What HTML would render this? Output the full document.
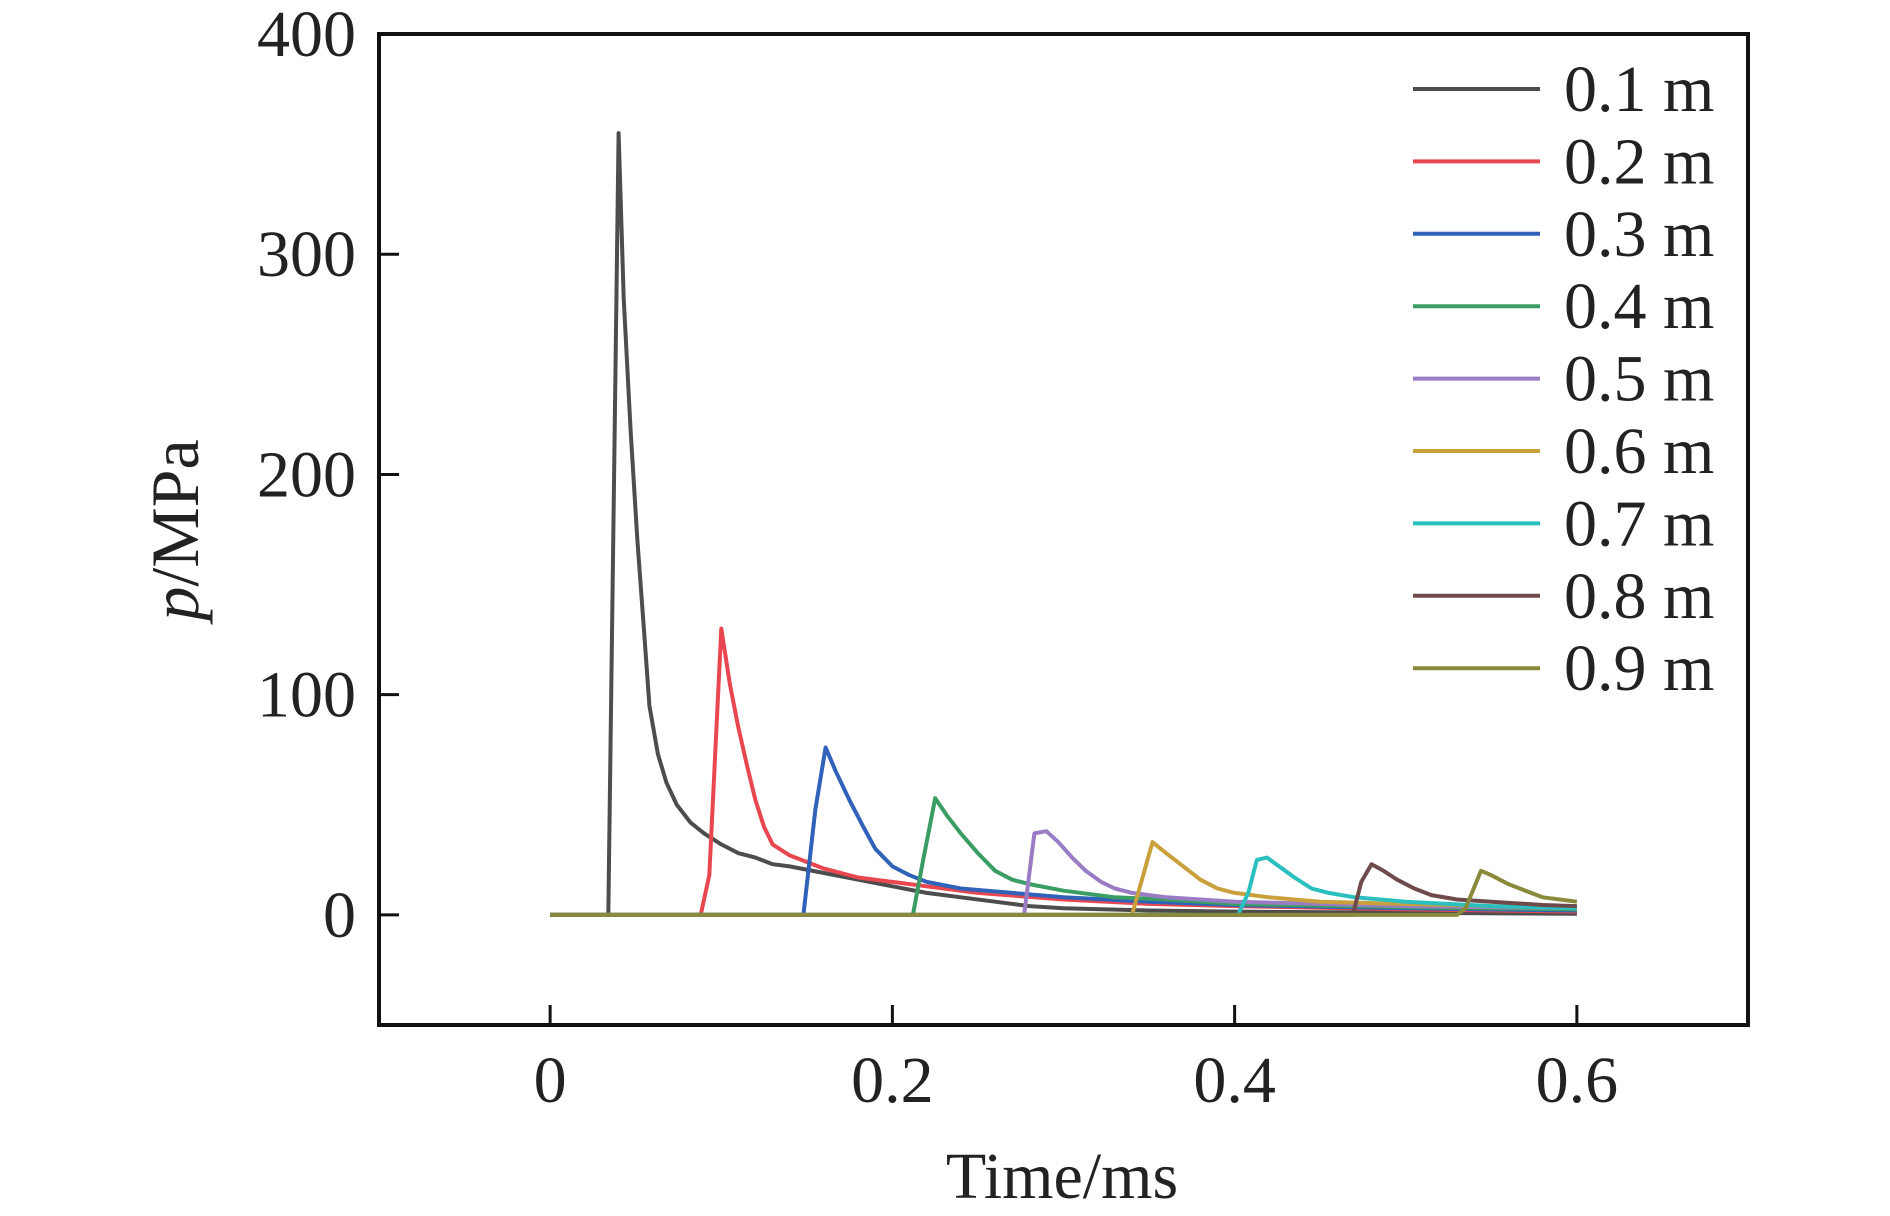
<!DOCTYPE html>
<html><head><meta charset="utf-8"><style>
body{margin:0;background:#fff;}
svg{display:block;font-family:"Liberation Serif",serif;}
</style></head><body>
<svg id="chart" width="1890" height="1216" viewBox="0 0 1890 1216" xmlns="http://www.w3.org/2000/svg">
<g id="series"></g>
<rect x="379" y="34" width="1369" height="991" fill="none" stroke="#111" stroke-width="4"/>
<g id="axes"></g>
<g id="legend"></g>
<text x="1062" y="1198" font-size="66" text-anchor="middle" fill="#222">Time/ms</text>
<text transform="translate(198,530) rotate(-90)" font-size="68" text-anchor="middle" fill="#222"><tspan font-style="italic">p</tspan>/MPa</text>
</svg>
<script>
const seriesNames = ["0.1 m","0.2 m","0.3 m","0.4 m","0.5 m","0.6 m","0.7 m","0.8 m","0.9 m"];
const seriesColors = ["#4d4d4d","#e8474f","#2f62b8","#3a9e64","#9a7cc4","#c9a03c","#2bbfbf","#6e4a4a","#8a8a3c"];
const xTicks = [0,0.2,0.4,0.6];
const yTicks = [0,100,200,300,400];
const t1 = [0,0.034,0.040,0.043,0.047,0.051,0.055,0.058,0.063,0.068,0.074,0.082,0.09,0.1,0.11,0.12,0.13,0.14,0.16,0.18,0.2,0.22,0.24,0.26,0.28,0.3,0.35,0.4,0.5,0.6];
const p1 = [0,0,355,280,220,170,128,95,73,60,50,42,37,32,28,26,23,22,19,16,13,10,8,6,4,3,2,1.5,1,0.5];
const t2 = [0,0.088,0.093,0.1,0.105,0.11,0.115,0.12,0.125,0.13,0.14,0.15,0.16,0.18,0.2,0.22,0.25,0.3,0.35,0.4,0.5,0.6];
const p2 = [0,0,18,130,105,85,68,52,40,32,27,24,21,17,15,13,10,7,5,4,2.5,1.5];
const t3 = [0,0.148,0.155,0.161,0.167,0.175,0.183,0.19,0.2,0.21,0.22,0.24,0.27,0.3,0.35,0.4,0.5,0.6];
const p3 = [0,0,48,76,65,52,40,30,22,18,15,12,10,8,6,4.5,3,2];
const t4 = [0,0.212,0.218,0.225,0.232,0.24,0.25,0.26,0.27,0.28,0.3,0.33,0.36,0.4,0.5,0.6];
const p4 = [0,0,25,53,45,37,28,20,16,14,11,8,7,5,3.5,2.5];
const t5 = [0,0.277,0.283,0.29,0.297,0.305,0.313,0.322,0.33,0.34,0.36,0.38,0.4,0.45,0.5,0.6];
const p5 = [0,0,37,38,33,26,20,15,12,10,8,7,6,5,4,3];
const t6 = [0,0.34,0.352,0.36,0.37,0.38,0.39,0.4,0.42,0.45,0.5,0.55,0.6];
const p6 = [0,0,33,28,22,16,12,10,8,6,5,4,3];
const t7 = [0,0.402,0.408,0.413,0.419,0.426,0.435,0.445,0.455,0.47,0.5,0.55,0.6];
const p7 = [0,0,10,25,26,22,17,12,10,8,6,4,3];
const t8 = [0,0.469,0.474,0.48,0.487,0.495,0.505,0.515,0.53,0.55,0.58,0.6];
const p8 = [0,0,15,23,20,16,12,9,7,6,4.5,4];
const t9 = [0,0.53,0.535,0.544,0.55,0.56,0.57,0.58,0.59,0.6];
const p9 = [0,0,3,20,18,14,11,8,7,6];
const allT=[t1,t2,t3,t4,t5,t6,t7,t8,t9], allP=[p1,p2,p3,p4,p5,p6,p7,p8,p9];
const NS="http://www.w3.org/2000/svg";
const X0=379,X1=1748,Y0=1025,Y1=34, xmin=-0.1,xmax=0.7,ymin=-50,ymax=400;
function sx(v){return X0+(v-xmin)/(xmax-xmin)*(X1-X0);}
function sy(v){return Y0-(v-ymin)/(ymax-ymin)*(Y0-Y1);}
function mk(tag,attrs,parent){const e=document.createElementNS(NS,tag);for(const k in attrs)e.setAttribute(k,attrs[k]);parent.appendChild(e);return e;}
const sg=document.getElementById('series');
allT.forEach((ts,i)=>{
  const d=ts.map((t,j)=>(j?'L':'M')+sx(t).toFixed(1)+','+sy(allP[i][j]).toFixed(1)).join(' ');
  const p=mk('path',{d:d,fill:'none',stroke:seriesColors[i],'stroke-width':4,'stroke-linejoin':'round'},sg);
  
  
});
const ax=document.getElementById('axes');
xTicks.forEach(v=>{
  const l=mk('line',{x1:sx(v),x2:sx(v),y1:Y0,y2:Y0-20,stroke:'#111','stroke-width':3},ax);
  
  
  const t=mk('text',{x:sx(v),y:1102,'font-size':66,'text-anchor':'middle',fill:'#222'},ax);
  t.textContent=String(v);
  
  
});
yTicks.forEach(v=>{
  const l=mk('line',{x1:X0,x2:X0+20,y1:sy(v),y2:sy(v),stroke:'#111','stroke-width':3},ax);
  
  
  const t=mk('text',{x:356,y:sy(v)+22,'font-size':66,'text-anchor':'end',fill:'#222'},ax);
  t.textContent=String(v);
  
  
});
const lg=document.getElementById('legend');
seriesNames.forEach((n,i)=>{
  const y=89+i*72.4;
  const g=mk('g',{},lg);
  
  
  mk('line',{x1:1413,x2:1540,y1:y,y2:y,stroke:seriesColors[i],'stroke-width':4},g);
  const t=mk('text',{x:1564,y:y+22,'font-size':66,fill:'#222'},g);
  t.textContent=n;
});
</script>
</body></html>
